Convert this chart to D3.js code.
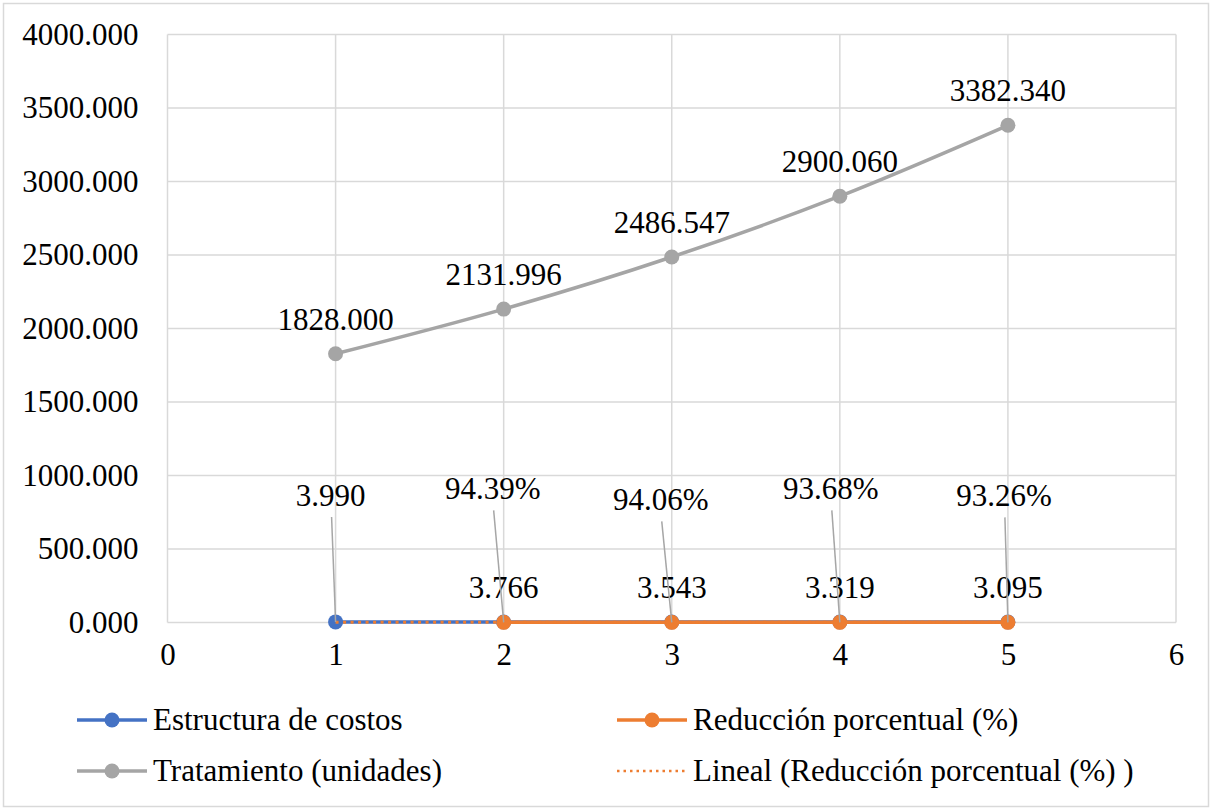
<!DOCTYPE html>
<html>
<head>
<meta charset="utf-8">
<script src="https://cdn.jsdelivr.net/npm/d3@7"></script>
<style>
  html, body { margin: 0; padding: 0; background: #fff; }
  svg { display: block; }
  text { font-family: "Liberation Serif", "Times New Roman", serif; fill: #000; }
</style>
</head>
<body>
<svg id="chart" width="1212" height="810"></svg>
<script>
// Periods (x positions) for each series
const periods = [1, 2, 3, 4, 5];
const reductionPeriods = [2, 3, 4, 5];

// Series values
const costStructure = [3.990, 3.766, 3.543, 3.319, 3.095];
const reductionPct = [0.9439, 0.9406, 0.9368, 0.9326];
const treatmentUnits = [1828.000, 2131.996, 2486.547, 2900.060, 3382.340];

// Axis ticks
const xTicks = [0, 1, 2, 3, 4, 5, 6];
const yTicks = [0, 500, 1000, 1500, 2000, 2500, 3000, 3500, 4000];

// Legend entries
const seriesNames = ["Estructura de costos", "Reducción porcentual (%)",
                     "Tratamiento (unidades)", "Lineal (Reducción porcentual (%) )"];

const colors = { cost: "#4472C4", reduction: "#ED7D31", treatment: "#A5A5A5" };

// Hand-moved data labels (pixel offsets from the point) with leader lines
const costLabelMoves = [{ dx: -5, dy: -116 }, null, null, null, null];
const reductionLabelMoves = [{ dx: -11, dy: -123 }, { dx: -11, dy: -112 },
                             { dx: -9, dy: -123 }, { dx: -4, dy: -116 }];

const svg = d3.select("#chart");
const W = 1212, H = 810;
const plot = { left: 167.5, right: 1176, top: 34.5, bottom: 622.5 };

// Outer chart border
svg.append("rect")
  .attr("x", 3.5).attr("y", 3.5).attr("width", W - 7).attr("height", H - 7)
  .attr("fill", "#fff").attr("stroke", "#d9d9d9").attr("stroke-width", 1.5);

const x = d3.scaleLinear().domain([0, 6]).range([plot.left, plot.right]);
const y = d3.scaleLinear().domain([0, 4000]).range([plot.bottom, plot.top]);

// Gridlines
const grid = svg.append("g").attr("stroke", "#d9d9d9").attr("stroke-width", 1.5);
grid.selectAll("line.h").data(yTicks).join("line")
  .attr("x1", plot.left).attr("x2", plot.right)
  .attr("y1", d => y(d)).attr("y2", d => y(d));
grid.selectAll("line.v").data(xTicks).join("line")
  .attr("y1", plot.top).attr("y2", plot.bottom)
  .attr("x1", d => x(d)).attr("x2", d => x(d));

// Axes (labels only; lines come from the grid)
const yAxis = svg.append("g")
  .attr("transform", `translate(${plot.left},0)`)
  .call(d3.axisLeft(y).tickValues(yTicks).tickFormat(d3.format(".3f")).tickSize(0).tickPadding(29));
const xAxis = svg.append("g")
  .attr("transform", `translate(0,${plot.bottom})`)
  .call(d3.axisBottom(x).tickValues(xTicks).tickFormat(d3.format("d")).tickSize(0).tickPadding(20));
[yAxis, xAxis].forEach(a => {
  a.select(".domain").remove();
  a.selectAll("text").attr("font-size", 31).attr("font-family", "Liberation Serif").attr("fill", "#000");
});
xAxis.selectAll("text").attr("dy", "0.71em");

// Series (smoothed lines with round markers)
const line = d3.line().x(d => x(d[0])).y(d => y(d[1]));
const smoothLine = d3.line().x(d => x(d[0])).y(d => y(d[1])).curve(d3.curveCatmullRom.alpha(0.5));
function drawSeries(xs, ys, color) {
  const pts = xs.map((v, i) => [v, ys[i]]);
  svg.append("path").datum(pts).attr("d", smoothLine)
    .attr("fill", "none").attr("stroke", color).attr("stroke-width", 3.5)
    .attr("stroke-linejoin", "round");
  svg.append("g").selectAll("circle").data(pts).join("circle")
    .attr("cx", d => x(d[0])).attr("cy", d => y(d[1])).attr("r", 7.5)
    .attr("fill", color);
  return pts;
}
const costPts = drawSeries(periods, costStructure, colors.cost);
const redPts = drawSeries(reductionPeriods, reductionPct, colors.reduction);
const treatPts = drawSeries(periods, treatmentUnits, colors.treatment);

// Linear trendline of the percentage reduction, extended back one period
const mx = d3.mean(reductionPeriods), my = d3.mean(reductionPct);
const slope = d3.sum(reductionPeriods, (v, i) => (v - mx) * (reductionPct[i] - my)) /
              d3.sum(reductionPeriods, v => (v - mx) ** 2);
const intercept = my - slope * mx;
const trendX = [d3.min(reductionPeriods) - 1, d3.max(reductionPeriods)];
svg.append("path")
  .datum(trendX.map(v => [v, intercept + slope * v]))
  .attr("d", line)
  .attr("fill", "none").attr("stroke", colors.reduction).attr("stroke-width", 3)
  .attr("stroke-dasharray", "3,4.5");

// Data labels
const labels = svg.append("g").attr("font-size", 31).attr("text-anchor", "middle");
function drawLabels(pts, fmt, moves) {
  pts.forEach((p, i) => {
    const px = x(p[0]), py = y(p[1]);
    const mv = moves && moves[i];
    const lx = mv ? px + mv.dx : px;
    const ly = mv ? py + mv.dy : py - 24;
    if (mv) {
      labels.append("line")
        .attr("x1", lx + 1).attr("y1", ly + 11).attr("x2", px).attr("y2", py)
        .attr("stroke", "#a6a6a6").attr("stroke-width", 1.5);
    }
    labels.append("text").attr("x", lx).attr("y", ly).text(fmt(p[1]));
  });
}
drawLabels(treatPts, d3.format(".3f"), null);
drawLabels(costPts, d3.format(".3f"), costLabelMoves);
drawLabels(redPts, d3.format(".2%"), reductionLabelMoves);

// Legend
const legendItems = [
  { name: seriesNames[0], color: colors.cost, marker: true, dotted: false, col: 0, row: 0 },
  { name: seriesNames[1], color: colors.reduction, marker: true, dotted: false, col: 1, row: 0 },
  { name: seriesNames[2], color: colors.treatment, marker: true, dotted: false, col: 0, row: 1 },
  { name: seriesNames[3], color: colors.reduction, marker: false, dotted: true, col: 1, row: 1 }
];
const colX = [77, 617], rowY = [720, 771];
const leg = svg.append("g");
legendItems.forEach(it => {
  const g = leg.append("g").attr("transform", `translate(${colX[it.col]},${rowY[it.row]})`);
  g.append("line").attr("x1", 0).attr("x2", 70).attr("y1", 0).attr("y2", 0)
    .attr("stroke", it.color).attr("stroke-width", it.dotted ? 2.5 : 3.5)
    .attr("stroke-dasharray", it.dotted ? "2.5,4" : null);
  if (it.marker) g.append("circle").attr("cx", 35).attr("r", 7.5).attr("fill", it.color);
  g.append("text").attr("x", 76).attr("y", 0).attr("dy", "0.33em")
    .attr("font-size", 31).text(it.name);
});
</script>
</body>
</html>
